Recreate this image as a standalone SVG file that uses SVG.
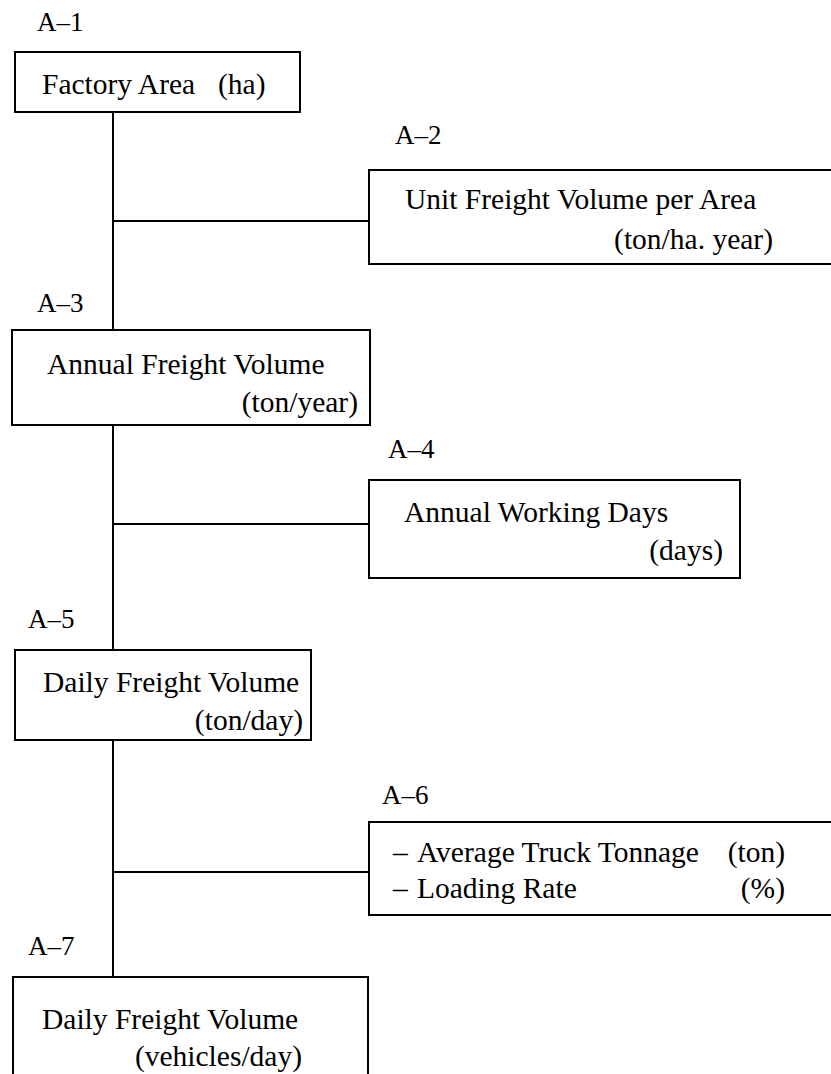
<svg xmlns="http://www.w3.org/2000/svg" width="831" height="1074" viewBox="0 0 831 1074">
<style>
.box{fill:#fff;stroke:#000;stroke-width:2}
.t{font-family:"Liberation Serif","Times New Roman",serif;font-size:29.5px;fill:#000}
.lbl{font-family:"Liberation Serif","Times New Roman",serif;font-size:27px;fill:#000}
.c{fill:none;stroke:#000;stroke-width:2}
</style>
<rect width="831" height="1074" fill="#fff"/>
<g id="connectors">
<path class="c" d="M113,112 V330 M113,425 V650 M113,740 V977 M113,221 H369 M113,524 H369 M113,872 H369"/>
</g>
<g id="A1">
<text class="lbl" x="37" y="31">A–1</text>
<rect class="box" x="15" y="52" width="285" height="60"/>
<text class="t" x="42" y="94">Factory Area</text>
<text class="t" x="218" y="94">(ha)</text>
</g>
<g id="A2">
<text class="lbl" x="395" y="144">A–2</text>
<rect class="box" x="369" y="170" width="470" height="94"/>
<text class="t" x="405" y="209">Unit Freight Volume per Area</text>
<text class="t" x="773" y="249" text-anchor="end">(ton/ha. year)</text>
</g>
<g id="A3">
<text class="lbl" x="37" y="312">A–3</text>
<rect class="box" x="12" y="330" width="358" height="95"/>
<text class="t" x="47" y="374">Annual Freight Volume</text>
<text class="t" x="358" y="412" text-anchor="end">(ton/year)</text>
</g>
<g id="A4">
<text class="lbl" x="388" y="458">A–4</text>
<rect class="box" x="369" y="480" width="371" height="98"/>
<text class="t" x="404" y="522">Annual Working Days</text>
<text class="t" x="723" y="560" text-anchor="end">(days)</text>
</g>
<g id="A5">
<text class="lbl" x="28" y="628">A–5</text>
<rect class="box" x="15" y="650" width="296" height="90"/>
<text class="t" x="43" y="692">Daily Freight Volume</text>
<text class="t" x="303" y="730" text-anchor="end">(ton/day)</text>
</g>
<g id="A6">
<text class="lbl" x="382" y="804">A–6</text>
<rect class="box" x="369" y="822" width="470" height="93"/>
<text class="t" x="393" y="862">–</text>
<text class="t" x="417" y="862">Average Truck Tonnage</text>
<text class="t" x="785" y="862" text-anchor="end">(ton)</text>
<text class="t" x="393" y="898">–</text>
<text class="t" x="417" y="898">Loading Rate</text>
<text class="t" x="785" y="898" text-anchor="end">(%)</text>
</g>
<g id="A7">
<text class="lbl" x="28" y="955">A–7</text>
<rect class="box" x="13" y="977" width="355" height="110"/>
<text class="t" x="42" y="1029">Daily Freight Volume</text>
<text class="t" x="302" y="1066" text-anchor="end">(vehicles/day)</text>
</g>
</svg>
